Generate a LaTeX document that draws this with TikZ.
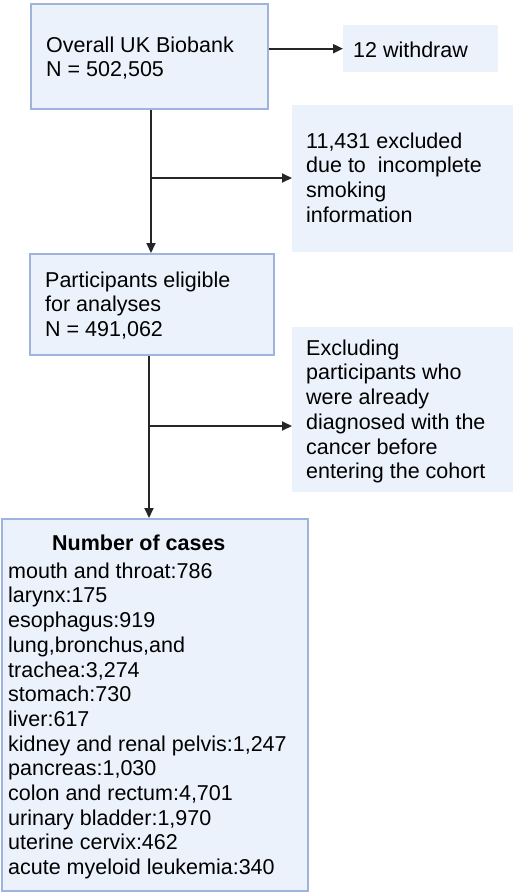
\documentclass[tikz,border=0pt]{standalone}
\usepackage{fontspec}
\setmainfont{Liberation Sans}
\usetikzlibrary{arrows.meta}
\definecolor{boxfill}{RGB}{235,242,251}
\definecolor{boxline}{RGB}{158,180,220}
\definecolor{arrowcol}{RGB}{38,38,38}
\tikzset{
  x=1pt, y=-1pt,
  mainbox/.style={draw=boxline, line width=2pt, fill=boxfill, rectangle, inner sep=0pt, anchor=north west},
  sidebox/.style={fill=boxfill, rectangle, inner sep=0pt, anchor=north west},
  txt/.style={anchor=north west, inner sep=0pt, align=left, font=\fontsize{21.5}{24.7}\selectfont},
  flow/.style={draw=arrowcol, line width=2pt, -{Triangle[length=10pt,width=9pt]}},
  trunk/.style={draw=arrowcol, line width=2pt}
}
\begin{document}
\begin{tikzpicture}
\useasboundingbox (0,0) rectangle (513,892);
% boxes
\node[mainbox, minimum width=237pt, minimum height=105pt] (b1) at (30,3) {};
\node[sidebox, minimum width=155pt, minimum height=47pt] (w) at (343,25) {};
\node[sidebox, minimum width=221pt, minimum height=147pt] (e1) at (292,105) {};
\node[mainbox, minimum width=244pt, minimum height=101pt] (b2) at (29,253) {};
\node[sidebox, minimum width=221pt, minimum height=165pt] (e2) at (292,327) {};
\node[mainbox, minimum width=306pt, minimum height=372pt] (b3) at (1,518) {};
% texts
\node[txt] (t1) at (46,36.5) {Overall UK Biobank\\N = 502,505};
\node[txt] (tw) at (353,41.5) {12 withdraw};
\node[txt] (te1) at (306,132.5) {11,431 excluded\\due to\ \ incomplete\\smoking\\information};
\node[txt] (t2) at (45,271.5) {Participants eligible\\for analyses\\N = 491,062};
\node[txt] (te2) at (306,339.5) {Excluding\\participants who\\were already\\diagnosed with the\\cancer before\\entering the cohort};
\node[txt, font=\fontsize{21.5}{24.7}\selectfont\bfseries] (t3h) at (52,534.5) {Number of cases};
\node[txt] (t3) at (8,562.5) {mouth and throat:786\\larynx:175\\esophagus:919\\lung,bronchus,and\\trachea:3,274\\stomach:730\\liver:617\\kidney and renal pelvis:1,247\\pancreas:1,030\\colon and rectum:4,701\\urinary bladder:1,970\\uterine cervix:462\\acute myeloid leukemia:340};
% connectors
\coordinate (j1) at (151,178);
\coordinate (j2) at (149,426);
\draw[flow] (b1.east |- w.west) -- (w.west);
\draw[trunk] (b1.south -| j1) -- (j1);
\draw[flow] (j1) -- (b2.north -| j1);
\draw[flow] (j1) -- (e1.west |- j1);
\draw[trunk] (b2.south -| j2) -- (j2);
\draw[flow] (j2) -- (b3.north -| j2);
\draw[flow] (j2) -- (e2.west |- j2);
\end{tikzpicture}
\end{document}
